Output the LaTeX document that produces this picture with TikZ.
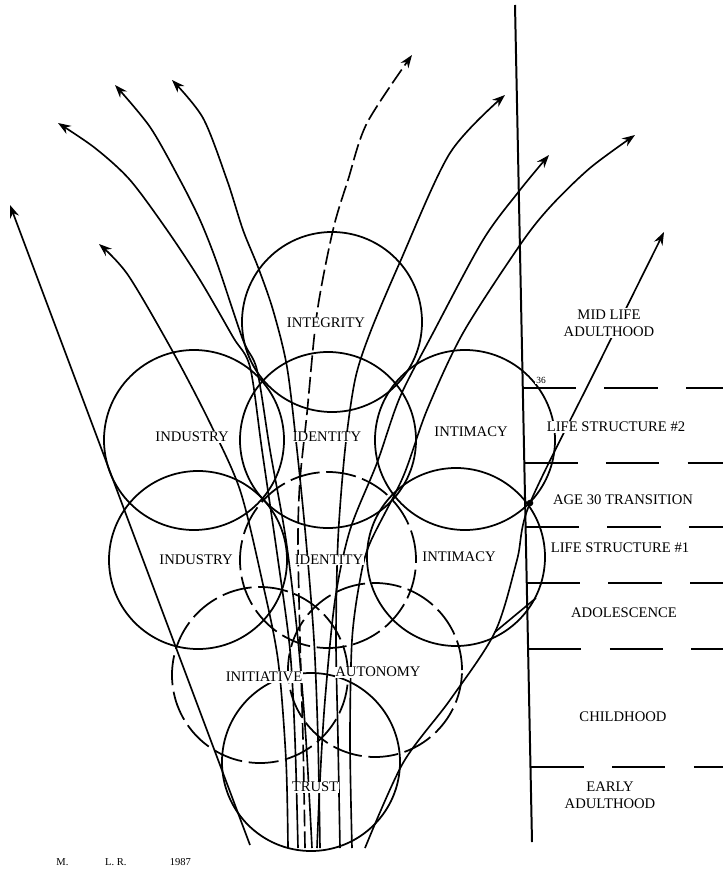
\documentclass[tikz,border=0pt]{standalone}
\usepackage{fontspec}
\setmainfont{Liberation Serif}
\usetikzlibrary{arrows.meta}

\tikzset{
  circ/.style={line width=1.5pt},
  brokencirc/.style={line width=1.5pt, dash pattern=on 0.9cm off 0.2cm},
  lifeline/.style={line width=1.4pt, -{Stealth[length=11pt,width=8pt]}},
  agedash/.style={line width=2.2pt, dash pattern=on 1.6cm off 0.85cm},
  stagelabel/.style={font=\fontsize{12.5}{14.5}\selectfont, fill=white, inner sep=0.5pt},
  periodlabel/.style={font=\fontsize{12.5}{14.5}\selectfont, align=center, fill=white, inner sep=1pt}
}

\begin{document}
\begin{tikzpicture}[x=0.03cm,y=-0.03cm]
      \useasboundingbox (0,0) rectangle (723,871);

      \coordinate (integrity) at (332,322);
      \coordinate (identityup) at (328,440);
      \coordinate (industryup) at (194,440);
      \coordinate (intimacyup) at (465,440);
      \coordinate (industrylo) at (198,560);
      \coordinate (identitylo) at (328,560);
      \coordinate (intimacylo) at (456,557);
      \coordinate (initiative) at (260,675);
      \coordinate (autonomy) at (375,670);
      \coordinate (trust) at (311,762);

      \draw [circ] (integrity) circle [radius=2.7cm];
      \draw [circ] (identityup) circle [radius=2.64cm];
      \draw [circ] (industryup) circle [radius=2.7cm];
      \draw [circ] (intimacyup) circle [radius=2.7cm];
      \draw [circ] (industrylo) circle [radius=2.67cm];
      \draw [brokencirc] (identitylo) circle [radius=2.64cm];
      \draw [circ] (intimacylo) circle [radius=2.67cm];
      \draw [brokencirc] (initiative) circle [radius=2.64cm];
      \draw [brokencirc] (autonomy) circle [radius=2.61cm];
      \draw [circ] (trust) circle [radius=2.67cm];

      \coordinate (axistop) at (515,5);
      \coordinate (axisbot) at (532,842);
      \draw [line width=1.7pt] (axistop) -- (axisbot);

      \foreach \yy in {388,463,527,583,649,767}
        \draw [agedash] ({515+17*(\yy-5)/837},\yy) -- (723,\yy);

      \coordinate (h1) at (10,205);
      \coordinate (h2) at (99,244);
      \coordinate (h3) at (58,123);
      \coordinate (h4) at (115,85);
      \coordinate (h5) at (172,80);
      \coordinate (h6) at (412,55);
      \coordinate (h7) at (505,95);
      \coordinate (h8) at (549,155);
      \coordinate (h9) at (635,135);
      \coordinate (h10) at (664,232);
      \coordinate (b1) at (250,845);

      \draw [lifeline] (b1) -- (h1);
      \draw [lifeline] plot [smooth] coordinates {(288,848) (286,760) (278,660) (262,580) (240,490) (210,423) (173,352) (128,275) (h2)};
      \draw [lifeline] plot [smooth] coordinates {(298,848) (295,740) (290,650) (278,560) (262,450) (250,367) (233,337) (200,280) (167,230) (130,180) (95,148) (h3)};
      \draw [lifeline] plot [smooth] coordinates {(312,848) (306,740) (298,640) (286,540) (270,450) (257,370) (243,340) (217,263) (200,220) (180,180) (150,127) (h4)};
      \draw [lifeline] plot [smooth] coordinates {(320,848) (318,740) (314,640) (306,540) (297,450) (287,367) (273,310) (258,267) (243,230) (227,180) (203,118) (h5)};
      \draw [lifeline, dash pattern=on 0.5cm off 0.15cm] plot [smooth] coordinates {(305,848) (303,740) (300,640) (298,540) (300,480) (307,413) (317,313) (333,230) (348,180) (367,123) (h6)};
      \draw [lifeline] plot [smooth] coordinates {(340,848) (338,740) (336,640) (338,540) (345,450) (355,380) (370,333) (400,262) (450,153) (h7)};
      \draw [lifeline] plot [smooth] coordinates {(317,848) (320,780) (325,700) (335,600) (350,530) (377,463) (400,397) (433,333) (483,240) (520,190) (h8)};
      \draw [lifeline] plot [smooth] coordinates {(352,848) (350,740) (352,640) (360,580) (370,543) (403,477) (427,410) (463,333) (520,245) (550,207) (590,168) (h9)};
      \draw [lifeline] plot [smooth] coordinates {(365,848) (403,763) (450,700) (495,632) (517,560) (530,503) (597,367) (h10)};
      \draw [line width=1.4pt] (495,632) -- (536,598);

      \node [fill=black,inner sep=2, circle] (j) at (530,503) {};

      \node [stagelabel] (integritytext) at (326,323) {INTEGRITY};
      \node [stagelabel] (industryuptext) at (192,437) {INDUSTRY};
      \node [stagelabel] (identityuptext) at (327,437) {IDENTITY};
      \node [stagelabel] (intimacyuptext) at (471,432) {INTIMACY};
      \node [stagelabel] (industrylotext) at (196,560) {INDUSTRY};
      \node [stagelabel] (identitylotext) at (329,560) {IDENTITY};
      \node [stagelabel] (intimacylotext) at (459,557) {INTIMACY};
      \node [stagelabel] (initiativetext) at (264,677) {INITIATIVE};
      \node [stagelabel] (autonomytext) at (378,672) {AUTONOMY};
      \node [stagelabel] (trusttext) at (315,787) {TRUST};

      \node [periodlabel] (midlife) at (609,323) {MID LIFE\\ADULTHOOD};
      \node [periodlabel, font=\fontsize{8}{9}\selectfont] (age36) at (541,380) {36};
      \node [periodlabel] (structuretwo) at (616,427) {LIFE STRUCTURE \#2};
      \node [periodlabel] (agethirty) at (623,500) {AGE 30 TRANSITION};
      \node [periodlabel] (structureone) at (620,548) {LIFE STRUCTURE \#1};
      \node [periodlabel] (adolescence) at (624,613) {ADOLESCENCE};
      \node [periodlabel] (childhood) at (623,717) {CHILDHOOD};
      \node [periodlabel] (earlyadult) at (610,795) {EARLY\\ADULTHOOD};

      \node [periodlabel, font=\fontsize{9}{10}\selectfont, anchor=west] (initials) at (55,862) {M.\hspace{1.1cm}L.\ R.\hspace{1.3cm}1987};
\end{tikzpicture}
\end{document}
